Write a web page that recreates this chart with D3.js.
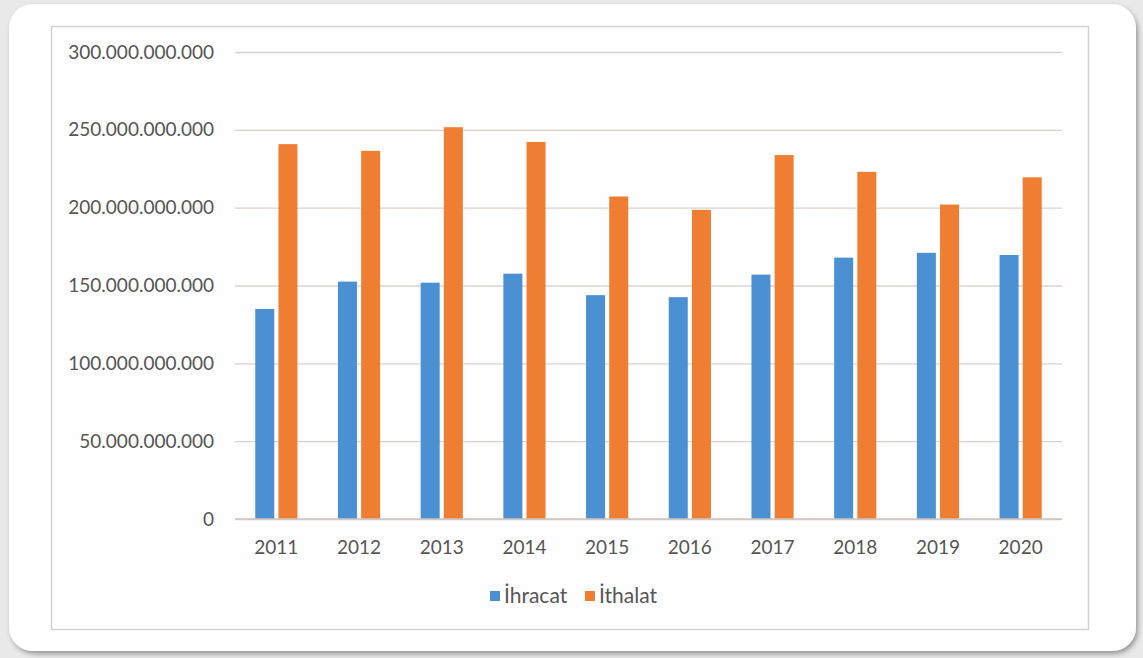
<!DOCTYPE html>
<html>
<head>
<meta charset="utf-8">
<script src="https://cdn.jsdelivr.net/npm/d3@7/dist/d3.min.js"></script>
<style>
  html, body { margin: 0; padding: 0; background: #e9e9e9; }
  svg { display: block; }
  text { font-family: Lato, "Open Sans", sans-serif; fill: #555555; }
</style>
</head>
<body>
<svg id="chart" width="1143" height="658"></svg>
<script>
// ---- data ----
const years = ["2011","2012","2013","2014","2015","2016","2017","2018","2019","2020"];
const seriesNames = ["İhracat", "İthalat"];
const ihracat = [134.9e9, 152.5e9, 151.8e9, 157.6e9, 143.8e9, 142.5e9, 157.0e9, 167.9e9, 171.0e9, 169.6e9];
const ithalat = [240.8e9, 236.5e9, 251.7e9, 242.2e9, 207.2e9, 198.6e9, 233.8e9, 223.0e9, 202.0e9, 219.5e9];
const yTicks = [0, 50e9, 100e9, 150e9, 200e9, 250e9, 300e9];
const colors = ["#4a90d2", "#ef7d32"];

const svg = d3.select("#chart");

// shadow filter
const defs = svg.append("defs");
const f = defs.append("filter").attr("id", "sh").attr("x", "-5%").attr("y", "-5%").attr("width", "110%").attr("height", "110%");
f.append("feDropShadow").attr("dx", 2).attr("dy", 3).attr("stdDeviation", 2.5).attr("flood-color", "#000").attr("flood-opacity", 0.35);

// card
svg.append("rect").attr("x", 9).attr("y", 4).attr("width", 1127).attr("height", 647)
  .attr("rx", 24).attr("fill", "#ffffff").attr("filter", "url(#sh)");

// inner frame
svg.append("rect").attr("x", 51.5).attr("y", 26.5).attr("width", 1037).attr("height", 603)
  .attr("fill", "#fefefe").attr("stroke", "#d4d4d4").attr("stroke-width", 1.5);

const plot = { left: 235, right: 1062, top: 52, bottom: 519 };

const y = d3.scaleLinear().domain([0, 300e9]).range([plot.bottom, plot.top]);
const x0 = d3.scaleBand().domain(years).range([plot.left, plot.right]).paddingInner(0.49).paddingOuter(0.245);
const x1 = d3.scaleBand().domain(seriesNames).range([0, x0.bandwidth()]).paddingInner(0.18);

const fmt = v => d3.format(",")(v).replace(/,/g, ".");

// gridlines + y labels
const yAxis = d3.axisLeft(y).tickValues(yTicks).tickSize(-(plot.right - plot.left)).tickFormat(fmt).tickPadding(21);
const gy = svg.append("g").attr("transform", `translate(${plot.left},0)`).call(yAxis);
gy.select(".domain").remove();
gy.selectAll(".tick line").attr("stroke", "#dcd2cd").attr("stroke-width", 1.3);
gy.selectAll(".tick text").attr("font-size", 19).style("fill", "#555555").attr("font-family", "Lato, sans-serif");

// bars
const data = years.map((yr, i) => ({ year: yr, vals: [ihracat[i], ithalat[i]] }));
const groups = svg.append("g").selectAll("g").data(data).join("g")
  .attr("transform", d => `translate(${x0(d.year)},0)`);
groups.selectAll("rect").data(d => d.vals.map((v, j) => ({ name: seriesNames[j], v, j })))
  .join("rect")
  .attr("x", d => x1(d.name))
  .attr("width", x1.bandwidth())
  .attr("y", d => y(d.v))
  .attr("height", d => y(0) - y(d.v))
  .attr("fill", d => colors[d.j]);

// baseline
svg.append("line").attr("x1", plot.left).attr("x2", plot.right).attr("y1", y(0)).attr("y2", y(0))
  .attr("stroke", "#cfc4bf").attr("stroke-width", 1.5);

// x axis labels
const xAxis = d3.axisBottom(x0).tickSize(0).tickPadding(22);
const gx = svg.append("g").attr("transform", `translate(0,${plot.bottom})`).call(xAxis);
gx.select(".domain").remove();
gx.selectAll(".tick text").attr("font-size", 19).style("fill", "#555555").attr("font-family", "Lato, sans-serif");

// legend
const legend = svg.append("g").attr("transform", "translate(490,596)");
const items = [{ name: seriesNames[0], c: colors[0], x: 0 }, { name: seriesNames[1], c: colors[1], x: 95 }];
const li = legend.selectAll("g").data(items).join("g").attr("transform", d => `translate(${d.x},0)`);
li.append("rect").attr("x", 0).attr("y", -5).attr("width", 10).attr("height", 10).attr("fill", d => d.c);
li.append("text").attr("x", 14).attr("y", 0).attr("dy", "0.35em").attr("font-size", 21).text(d => d.name);
</script>
</body>
</html>
